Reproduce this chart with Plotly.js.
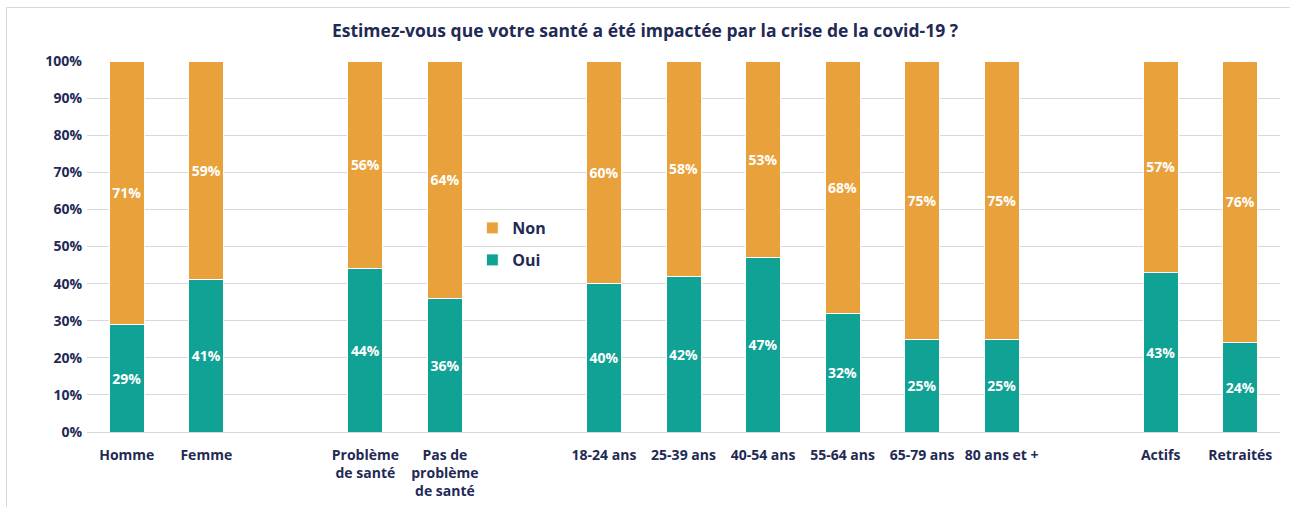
<!DOCTYPE html>
<html>
<head>
<meta charset="utf-8">
<script src="https://cdn.plot.ly/plotly-3.0.1.min.js"></script>
<style>
html,body{margin:0;padding:0;background:#fff;}
#frame{position:absolute;left:6px;top:7px;width:1300px;height:520px;border-left:1px solid #d9d9d9;border-top:1px solid #d9d9d9;pointer-events:none;z-index:5;}
#chart{position:absolute;left:0;top:0;width:1290px;height:507px;}
</style>
</head>
<body>
<div id="chart"></div>
<div id="frame"></div>
<script>
const categories = ["Homme", "Femme", "", "Problème de santé", "Pas de problème de santé", "", "18-24 ans", "25-39 ans", "40-54 ans", "55-64 ans", "65-79 ans", "80 ans et +", "", "Actifs", "Retraités"];
const oui = [29, 41, null, 44, 36, null, 40, 42, 47, 32, 25, 25, null, 43, 24];
const non = [71, 59, null, 56, 64, null, 60, 58, 53, 68, 75, 75, null, 57, 76];
const tickText = ["Homme", "Femme", "", "Problème<br>de santé", "Pas de<br>problème<br>de santé", "", "18-24 ans", "25-39 ans", "40-54 ans", "55-64 ans", "65-79 ans", "80 ans et +", "", "Actifs", "Retraités"];
const positions = categories.map((c, i) => i);

const navy = "#1F2A55";
const fam = "'Open Sans', Lato, sans-serif";
const labelFont = {family: fam, size: 14, color: "#ffffff", weight: "bold"};

const traces = [
  {
    type: "bar", name: "Oui", x: positions, y: oui,
    marker: {color: "#10A294", line: {color: "#ffffff", width: 1}},
    width: 0.44,
    text: oui.map(v => v == null ? "" : "<b>" + v + "%</b>"),
    textposition: "inside", insidetextanchor: "middle", textangle: 0,
    textfont: labelFont, hoverinfo: "skip", legend: "legend2"
  },
  {
    type: "bar", name: "Non", x: positions, y: non,
    marker: {color: "#E9A23B", line: {color: "#ffffff", width: 1}},
    width: 0.44,
    text: non.map(v => v == null ? "" : "<b>" + v + "%</b>"),
    textposition: "inside", insidetextanchor: "middle", textangle: 0,
    textfont: labelFont, hoverinfo: "skip", legend: "legend"
  }
];

const legendCommon = {
  xanchor: "left", yanchor: "middle",
  font: {size: 16, color: navy, family: fam, weight: "bold"},
  itemwidth: 30, bgcolor: "rgba(0,0,0,0)"
};

const layout = {
  width: 1290, height: 507,
  margin: {l: 87, r: 10, t: 61, b: 75},
  paper_bgcolor: "#ffffff", plot_bgcolor: "#ffffff",
  barmode: "stack",
  font: {family: fam, color: navy},
  title: {
    text: "<b>Estimez-vous que votre santé a été impactée par la crise de la covid-19 ?</b>",
    x: 0.5, xanchor: "center", y: 0.94, yanchor: "middle",
    font: {size: 17.5, color: navy, family: fam}
  },
  xaxis: {
    tickmode: "array", tickvals: positions,
    ticktext: tickText.map(t => t === "" ? "" : "<b>" + t.replace(/<br>/g, "</b><br><b>") + "</b>"),
    range: [-0.5, 14.5],
    showgrid: false, zeroline: false, showline: false,
    ticks: "", tickfont: {size: 14, color: navy, family: fam}, tickangle: 0,
    ticklabelstandoff: 13
  },
  yaxis: {
    range: [0, 100], tickmode: "linear", tick0: 0, dtick: 10, ticksuffix: "%",
    showgrid: true, gridcolor: "#d9d9d9", gridwidth: 1,
    zeroline: true, zerolinecolor: "#d9d9d9", zerolinewidth: 1,
    showline: false, ticks: "",
    tickprefix: "<b>",
    tickfont: {size: 14, color: navy, family: fam},
    ticklabelstandoff: 4
  },
  legend: Object.assign({x: 0.323, y: (432 - 228) / 371}, legendCommon),
  legend2: Object.assign({x: 0.323, y: (432 - 260) / 371}, legendCommon),
  showlegend: true
};

Plotly.newPlot("chart", traces, layout, {displayModeBar: false, staticPlot: true});
</script>
</body>
</html>
